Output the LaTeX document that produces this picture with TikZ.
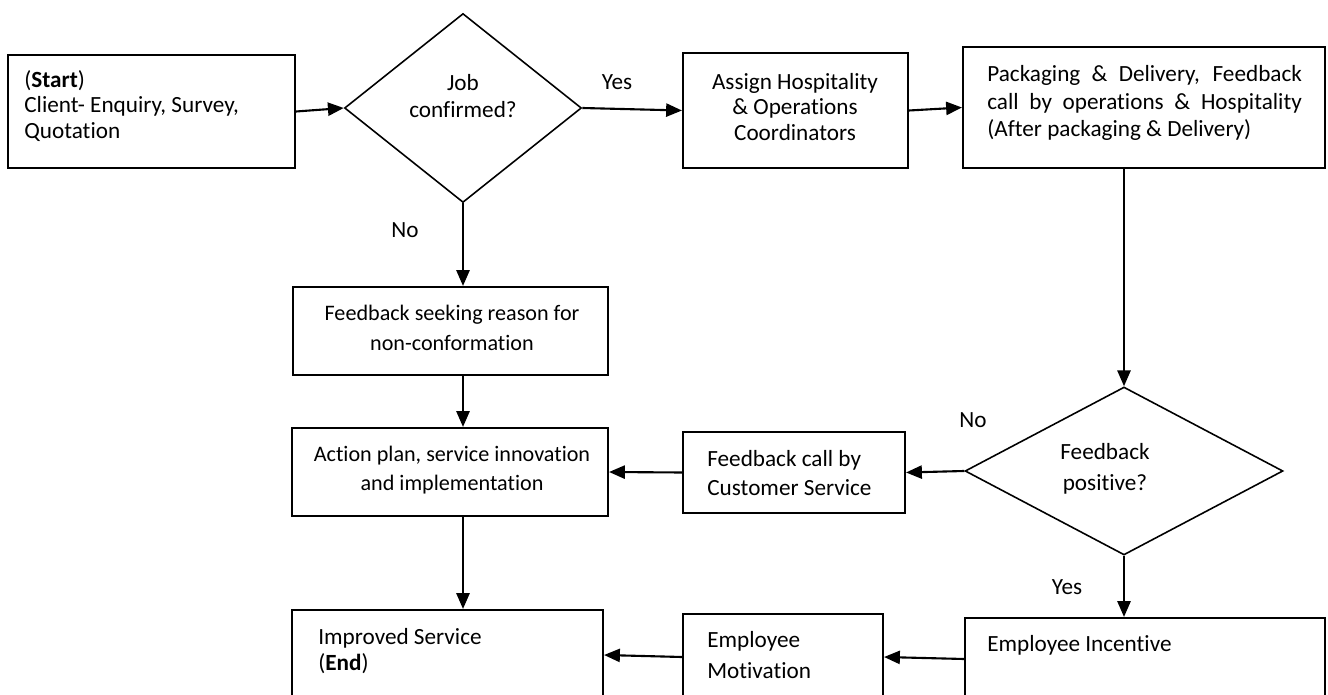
\documentclass[tikz,border=0pt]{standalone}
\usepackage{fontspec}
\setmainfont{Carlito}[Ligatures=CommonOff]
\usetikzlibrary{shapes.geometric,arrows.meta,fit,calc}
\begin{document}
\begin{tikzpicture}[x=0.02cm,y=-0.02cm,
  box/.style={draw, line width=1.2pt, inner sep=0pt},
  dec/.style={draw, diamond, line width=0.9pt, inner sep=0pt},
  txt/.style={font=\fontsize{13.2}{14.7}\selectfont, inner sep=0pt},
  ctxt/.style={font=\fontsize{12.6}{14.7}\selectfont, inner sep=0pt},
  arr/.style={line width=1.2pt, -{Triangle[length=9pt,width=7.5pt]}}]
\useasboundingbox (0,0) rectangle (1328,695);
\fill[white] (0,0) rectangle (1328,695);
\clip (0,0) rectangle (1328,695);
% boxes
\node[box, fit={(8,55) (295,168)}] (start) {};
\node[dec, minimum width=4.74cm, minimum height=3.78cm] (d1) at (463,108) {};
\node[box, fit={(683,53) (908,168)}] (assign) {};
\node[box, fit={(963,47) (1325,168)}] (pack) {};
\node[box, fit={(293,287) (608,375)}] (fseek) {};
\node[box, fit={(292,428) (608,516)}] (action) {};
\node[box, fit={(683,432) (905,513)}] (fcall) {};
\node[dec, minimum width=6.36cm, minimum height=3.36cm] (d2) at (1124,471) {};
\node[box, fit={(292,610) (603,700)}] (improved) {};
\node[box, fit={(683,614) (883,700)}] (motiv) {};
\node[box, fit={(965,618) (1325,700)}] (incent) {};
% texts
\node[txt, anchor=west, align=left] (tstart) at (24,106) {(\textbf{Start})\\Client- Enquiry, Survey,\\Quotation};
\node[txt, align=center] (td1) at (463,96) {Job\\[1pt]confirmed?};
\node[txt, align=center] (tassign) at (795,107) {Assign Hospitality\\\& Operations\\Coordinators};
\node[txt, anchor=west, align=left] (tpack) at (987,103) {\makebox[179pt][s]{Packaging \& Delivery, Feedback}\\[1pt]\makebox[179pt][s]{call by operations \& Hospitality}\\[1pt](After packaging \& Delivery)};
\node[ctxt, align=center] (tfseek) at (452,328) {Feedback seeking reason for\\[2pt]non-conformation};
\node[ctxt, align=center] (taction) at (452,470) {Action plan, service innovation\\[2pt]and implementation};
\node[txt, anchor=west, align=left] (tfcall) at (707,473) {Feedback call by\\[2pt]Customer Service};
\node[txt, align=center] (td2) at (1105,469) {Feedback\\[3pt]positive?};
\node[txt, anchor=west, align=left] (timproved) at (318,651) {Improved Service\\(\textbf{End})};
\node[txt, anchor=west, align=left] (tmotiv) at (707,655) {Employee\\[3pt]Motivation};
\node[txt, anchor=west] (tincent) at (987,645) {Employee Incentive};
% labels
\node[txt] (yes1) at (617,82) {Yes};
\node[txt] (no1) at (405,230) {No};
\node[txt] (no2) at (973,420) {No};
\node[txt] (yes2) at (1067,587) {Yes};
% connectors
\draw[arr] (start.east) -- (d1.west);
\draw[arr] (d1.east) -- (assign.west);
\draw[arr] (assign.east) -- (pack.west);
\draw[arr] (pack.south -| d2.north) -- (d2.north);
\draw[arr] (d1.south) -- (d1.south |- fseek.north);
\draw[arr] (fseek.south -| d1.south) -- (action.north -| d1.south);
\draw[arr] (action.south -| d1.south) -- (improved.north -| d1.south);
\draw[arr] (d2.west) -- (fcall.east);
\draw[arr] (fcall.west) -- (action.east);
\draw[arr] (d2.south) -- (incent.north -| d2.south);
\draw[arr] (incent.west) -- (motiv.east);
\draw[arr] (motiv.west) -- (improved.east);
\end{tikzpicture}
\end{document}
